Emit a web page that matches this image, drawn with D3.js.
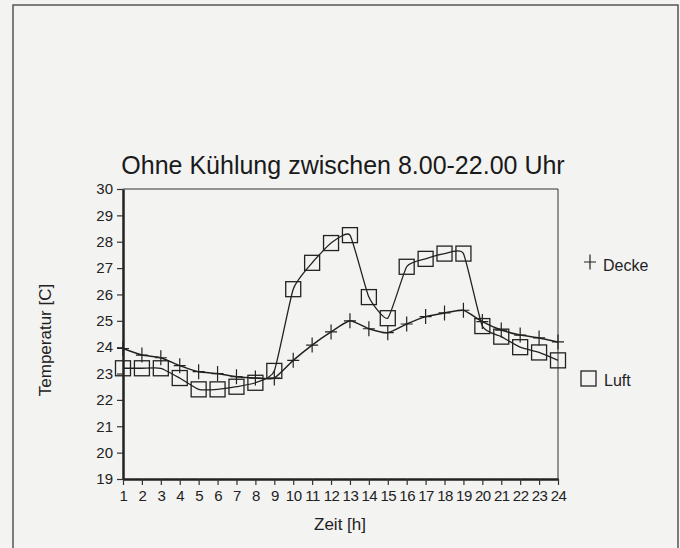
<!DOCTYPE html>
<html>
<head>
<meta charset="utf-8">
<script src="https://cdn.jsdelivr.net/npm/d3@7"></script>
<style>
  body { margin: 0; background: #f3f3f2; }
  svg { display: block; font-family: "Liberation Sans", Arial, sans-serif; }
</style>
</head>
<body>
<script>
// hours on the x axis
var hours = d3.range(1, 25);
// ceiling temperature (+ marker)
var decke = [23.95, 23.7, 23.6, 23.3, 23.07, 23.0, 22.88, 22.83, 22.83, 23.5, 24.08, 24.58,
             25.0, 24.7, 24.55, 24.88, 25.16, 25.3, 25.4, 24.97, 24.65, 24.46, 24.35, 24.2];
// air temperature (square marker)
var luft = [23.2, 23.2, 23.2, 22.83, 22.4, 22.4, 22.5, 22.65, 23.1, 26.2, 27.2, 27.95,
            28.25, 25.9, 25.1, 27.05, 27.35, 27.55, 27.55, 24.8, 24.4, 24.0, 23.8, 23.5];
var yTicks = d3.range(19, 31);

var W = 680, H = 548;

var svg = d3.select("body").append("svg")
    .attr("width", W)
    .attr("height", H);

// scanned page background + frame
svg.append("rect")
    .attr("x", 0).attr("y", 0).attr("width", W).attr("height", H)
    .attr("fill", "#f3f3f2");
svg.append("rect")
    .attr("x", 13).attr("y", 5).attr("width", 665).attr("height", 560)
    .attr("fill", "none")
    .attr("stroke", "#555")
    .attr("stroke-width", 1.5);

// scales
var x = d3.scaleLinear().domain([1, 24]).range([123, 558]);
var y = d3.scaleLinear().domain([19, 30]).range([479, 189]);

// plot frame (top + right thin)
svg.append("path")
    .attr("d", "M" + x(1) + "," + y(30) + "H" + x(24) + "V" + y(19))
    .attr("fill", "none")
    .attr("stroke", "#333")
    .attr("stroke-width", 1);

// y axis
var yAxis = svg.append("g")
    .attr("transform", "translate(" + x(1) + ",0)")
    .call(d3.axisLeft(y).tickValues(yTicks).tickSize(6).tickPadding(4).tickSizeOuter(0));
yAxis.select(".domain").attr("stroke", "#222").attr("stroke-width", 2.5);
yAxis.selectAll(".tick line").attr("stroke", "#333").attr("stroke-width", 1.2);
yAxis.selectAll("text")
    .attr("fill", "#222")
    .style("font-size", "15px");

// x axis
var xAxis = svg.append("g")
    .attr("transform", "translate(0," + y(19) + ")")
    .call(d3.axisBottom(x).tickValues(hours).tickSize(6).tickPadding(5).tickSizeOuter(0));
xAxis.select(".domain").attr("stroke", "#222").attr("stroke-width", 2.5);
xAxis.selectAll(".tick line").attr("stroke", "#333").attr("stroke-width", 1.2);
xAxis.selectAll("text")
    .attr("fill", "#222")
    .attr("letter-spacing", "-0.5px")
    .style("font-size", "15px");

// lines
var line = d3.line()
    .curve(d3.curveCardinal.tension(0.5))
    .x(function(d, i) { return x(hours[i]); })
    .y(function(d) { return y(d); });

svg.append("path")
    .datum(decke)
    .attr("fill", "none")
    .attr("stroke", "#222")
    .attr("stroke-width", 1.5)
    .attr("d", line);

svg.append("path")
    .datum(luft)
    .attr("fill", "none")
    .attr("stroke", "#222")
    .attr("stroke-width", 1.3)
    .attr("d", line);

// plus markers
var plus = d3.symbol().type(function() {
  return { draw: function(ctx) {
    ctx.moveTo(-6, 0); ctx.lineTo(6, 0);
    ctx.moveTo(0, -7.5); ctx.lineTo(0, 7.5);
  }};
}());
svg.append("g").selectAll("path")
    .data(decke)
  .enter().append("path")
    .attr("transform", function(d, i) { return "translate(" + x(hours[i]) + "," + y(d) + ")"; })
    .attr("d", plus)
    .attr("fill", "none")
    .attr("stroke", "#222")
    .attr("stroke-width", 1.2);

// square markers
svg.append("g").selectAll("rect")
    .data(luft)
  .enter().append("rect")
    .attr("x", function(d, i) { return x(hours[i]) - 7.5; })
    .attr("y", function(d) { return y(d) - 7.5; })
    .attr("width", 15)
    .attr("height", 15)
    .attr("fill", "none")
    .attr("stroke", "#222")
    .attr("stroke-width", 1.3);

// title
svg.append("text")
    .attr("x", 343)
    .attr("y", 174)
    .attr("text-anchor", "middle")
    .attr("fill", "#1a1a1a")
    .style("font-size", "25px")
    .text("Ohne Kühlung zwischen 8.00-22.00 Uhr");

// axis labels
svg.append("text")
    .attr("x", 340)
    .attr("y", 530)
    .attr("text-anchor", "middle")
    .attr("fill", "#222")
    .style("font-size", "17px")
    .text("Zeit [h]");

svg.append("text")
    .attr("transform", "translate(51,340) rotate(-90)")
    .attr("text-anchor", "middle")
    .attr("fill", "#222")
    .style("font-size", "17px")
    .text("Temperatur [C]");

// legend
var legend = svg.append("g");
legend.append("path")
    .attr("transform", "translate(590,262)")
    .attr("d", plus)
    .attr("fill", "none")
    .attr("stroke", "#222")
    .attr("stroke-width", 1.2);
legend.append("text")
    .attr("x", 603).attr("y", 271)
    .attr("fill", "#222")
    .style("font-size", "16px")
    .text("Decke");
legend.append("rect")
    .attr("x", 581).attr("y", 371).attr("width", 15).attr("height", 15)
    .attr("fill", "none")
    .attr("stroke", "#222")
    .attr("stroke-width", 1.3);
legend.append("text")
    .attr("x", 604).attr("y", 386)
    .attr("fill", "#222")
    .style("font-size", "16px")
    .text("Luft");
</script>
</body>
</html>
